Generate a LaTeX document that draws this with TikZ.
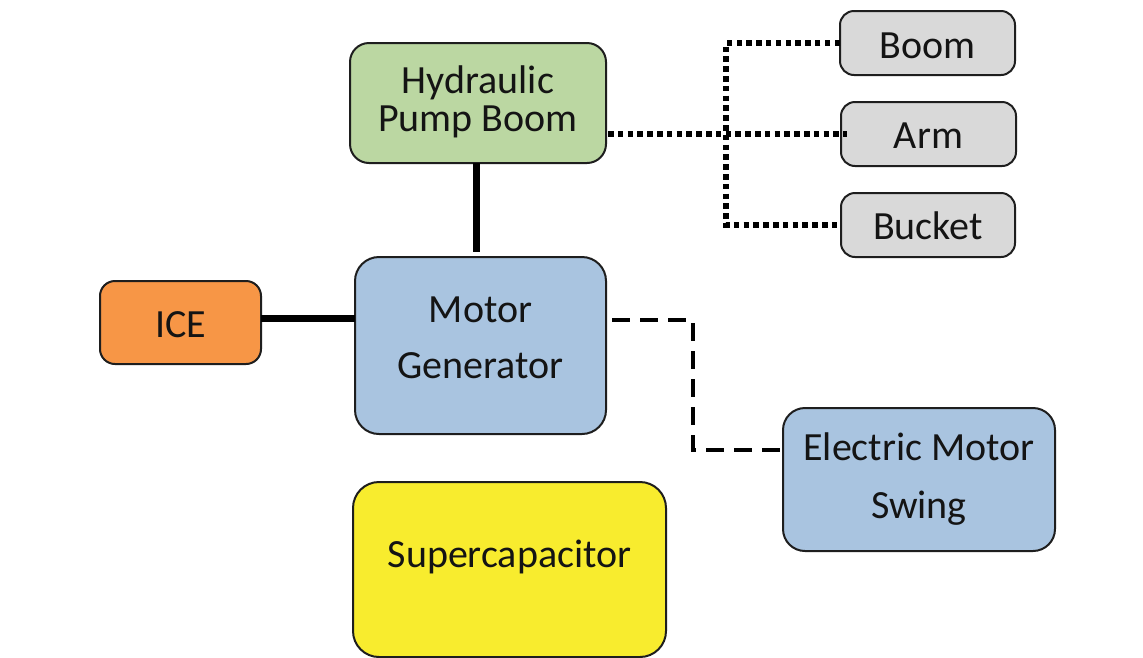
\documentclass[tikz,border=0pt]{standalone}
\usepackage{fontspec}
\setmainfont{Carlito}
\definecolor{hydgreen}{HTML}{BBD7A2}
\definecolor{boxgray}{HTML}{D9D9D9}
\definecolor{iceorange}{HTML}{F79646}
\definecolor{mgblue}{HTML}{A9C4E0}
\definecolor{scyellow}{HTML}{F8EC2E}
\definecolor{edge}{HTML}{1E1E1E}
\begin{document}
\begin{tikzpicture}[x=1pt,y=-1pt,
  box/.style={draw=edge, line width=2pt, rounded corners=19pt, inner sep=0pt, outer sep=0pt},
  txt/.style={anchor=base, font=\fontsize{40}{48}\selectfont, text=black!92, inner sep=0pt},
  thickline/.style={line width=7pt, draw=black},
  dotline/.style={line width=5.5pt, draw=black, dash pattern=on 5.5pt off 4.3pt},
  dashline/.style={line width=4pt, draw=black, dash pattern=on 18pt off 10pt}]
\fill[white] (0,0) rectangle (1143,657);
\useasboundingbox (0,0) rectangle (1143,657);

% boxes
\node[box, fill=hydgreen, minimum width=256pt, minimum height=120pt] (hyd) at (478,103) {};
\node[box, fill=boxgray, minimum width=175pt, minimum height=64pt, rounded corners=14pt] (boom) at (927.5,43) {};
\node[box, fill=boxgray, minimum width=175pt, minimum height=64pt, rounded corners=14pt] (arm) at (928.5,134) {};
\node[box, fill=boxgray, minimum width=174pt, minimum height=64pt, rounded corners=14pt] (bucket) at (928,225) {};
\node[box, fill=iceorange, minimum width=161pt, minimum height=83pt, rounded corners=15pt] (ice) at (180.5,322.5) {};
\node[box, fill=mgblue, minimum width=251pt, minimum height=177pt, rounded corners=24pt] (mg) at (480.5,345.5) {};
\node[box, fill=mgblue, minimum width=272pt, minimum height=143pt, rounded corners=22pt] (swing) at (919,479.5) {};
\node[box, fill=scyellow, minimum width=313pt, minimum height=175pt, rounded corners=26pt] (sc) at (509.5,569.5) {};

% texts
\node[txt, align=center, font=\fontsize{40}{38}\selectfont] (hydt) at (478,131.5) {Hydraulic\\Pump Boom};
\node[txt] (boomt) at (927.5,58) {Boom};
\node[txt] (armt) at (928.5,148) {Arm};
\node[txt] (buckett) at (928,239) {Bucket};
\node[txt] (icet) at (180.5,337) {ICE};
\node[txt] (mgt1) at (480.5,322) {Motor};
\node[txt] (mgt2) at (480.5,378) {Generator};
\node[txt] (swingt1) at (919,460) {Electric Motor};
\node[txt] (swingt2) at (919,518) {Swing};
\node[txt] (sct) at (509.5,567) {Supercapacitor};

% connectors
\draw[thickline] ([xshift=-2pt]hyd.south) -- ([xshift=-2pt,yshift=5pt]hyd.south |- mg.north);
\coordinate (iy) at (0,318);
\draw[thickline] (ice.east |- iy) -- (mg.west |- iy);

\coordinate (jx) at (726,0);
\draw[dotline] ([xshift=2pt]hyd.east |- arm.west) -- ([xshift=6pt]arm.west);
\draw[dotline] (boom.west) -- (jx |- boom.west) -- (jx |- bucket.west) -- (bucket.west);

\coordinate (d1) at (693,320);
\coordinate (d2) at (693,450);
\draw[dashline] ([xshift=6pt]mg.east |- d1) -- (d1) -- (d2) -- (swing.west |- d2);
\end{tikzpicture}
\end{document}
